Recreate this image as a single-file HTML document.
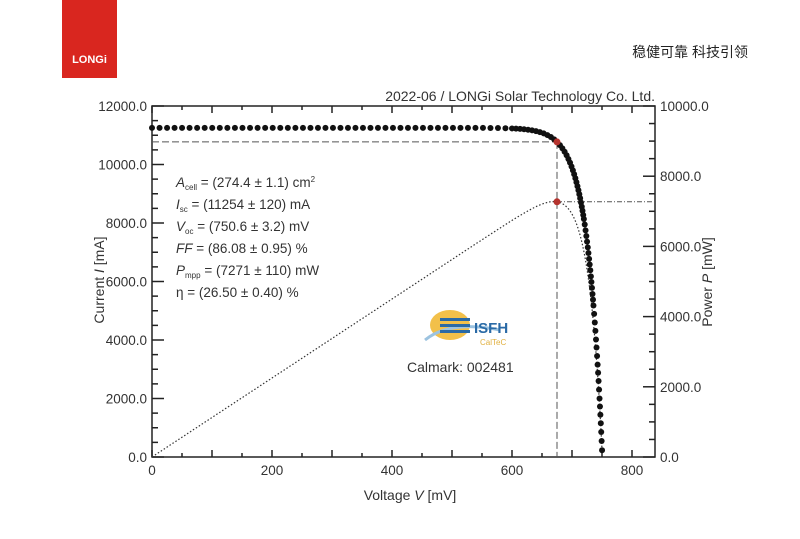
<!DOCTYPE html>
<html><head><meta charset="utf-8"><style>
body{margin:0;background:#fff;width:800px;height:534px;overflow:hidden;font-family:"Liberation Sans","Noto Sans CJK SC",sans-serif}
svg text{font-family:"Liberation Sans","Noto Sans CJK SC",sans-serif;fill:#333}
</style></head><body>
<svg id="s" width="800" height="534" xmlns="http://www.w3.org/2000/svg">
<rect x="62" y="0" width="55" height="78" fill="#d9261f"/>
<text x="89.5" y="63" font-size="11" font-weight="bold" text-anchor="middle" style="fill:#fff">LONGi</text>
<text x="748" y="57" font-size="14" text-anchor="end" style="fill:#222">稳健可靠  科技引领</text>
<text x="655" y="101" font-size="14" text-anchor="end">2022-06 / LONGi Solar Technology Co. Ltd.</text>
<rect x="152" y="106" width="503" height="351" fill="none" stroke="#222" stroke-width="1.5"/>
<g id="ticks" stroke="#222" stroke-width="1.5"></g>
<g id="lab" font-size="13.5"></g>
<text transform="translate(104,280) rotate(-90)" font-size="14" text-anchor="middle">Current <tspan font-style="italic">I</tspan> [mA]</text>
<text transform="translate(712,282) rotate(-90)" font-size="14" text-anchor="middle">Power <tspan font-style="italic">P</tspan> [mW]</text>
<text x="410" y="500" font-size="14" text-anchor="middle">Voltage <tspan font-style="italic">V</tspan> [mV]</text>
<g font-size="13.5">
<text x="176" y="187"><tspan font-style="italic">A</tspan><tspan font-size="8" dy="3">cell</tspan><tspan dy="-3"> = (274.4 ± 1.1) cm</tspan><tspan font-size="8" dy="-5">2</tspan></text>
<text x="176" y="209"><tspan font-style="italic">I</tspan><tspan font-size="8" dy="3">sc</tspan><tspan dy="-3"> = (11254 ± 120) mA</tspan></text>
<text x="176" y="231"><tspan font-style="italic">V</tspan><tspan font-size="8" dy="3">oc</tspan><tspan dy="-3"> = (750.6 ± 3.2) mV</tspan></text>
<text x="176" y="253"><tspan font-style="italic">FF</tspan> = (86.08 ± 0.95) %</text>
<text x="176" y="275"><tspan font-style="italic">P</tspan><tspan font-size="8" dy="3">mpp</tspan><tspan dy="-3"> = (7271 ± 110) mW</tspan></text>
<text x="176" y="297">η = (26.50 ± 0.40) %</text>
</g>
<ellipse cx="450" cy="325" rx="20" ry="15" fill="#f2c04a"/>
<path d="M425 340 Q450 320 500 330" stroke="#9cc3e0" stroke-width="3" fill="none"/>
<rect x="440" y="318" width="30" height="3" fill="#2a6aa6"/><rect x="440" y="324" width="30" height="3" fill="#2a6aa6"/><rect x="440" y="330" width="30" height="3" fill="#2a6aa6"/>
<text x="474" y="333" font-size="15" font-weight="bold" style="fill:#2a6aa6">ISFH</text>
<text x="480" y="345" font-size="8" style="fill:#e0b040">CalTeC</text>
<text x="407" y="372" font-size="14">Calmark: 002481</text>
<g id="curves"></g>
</svg>
<script>
const NS="http://www.w3.org/2000/svg";
const X=v=>152+v*0.6, YI=i=>457-i*351/12000, YP=p=>457-p*351/10000;
function el(t,a,p){const e=document.createElementNS(NS,t);for(const k in a)e.setAttribute(k,a[k]);(p||document.getElementById('curves')).appendChild(e);return e;}
const tk=document.getElementById('ticks'),lb=document.getElementById('lab');
for(let v=0;v<=835;v+=50){const L=v%100==0?7:4;el('line',{x1:X(v),y1:457,x2:X(v),y2:457-L},tk);el('line',{x1:X(v),y1:106,x2:X(v),y2:106+L},tk);
 if(v%200==0)el('text',{x:X(v),y:475,'text-anchor':'middle'},lb).textContent=v;}
for(let i=0;i<=12000;i+=500){const L=i%2000==0?12:6;el('line',{x1:152,y1:YI(i),x2:152+L,y2:YI(i)},tk);
 if(i%2000==0)el('text',{x:147,y:YI(i)+5,'text-anchor':'end'},lb).textContent=i.toFixed(1);}
for(let p=0;p<=10000;p+=500){const L=p%2000==0?12:6;el('line',{x1:655,y1:YP(p),x2:655-L,y2:YP(p)},tk);
 if(p%2000==0)el('text',{x:660,y:YP(p)+5},lb).textContent=p.toFixed(1);}
const Isc=11254,Voc=750.6,a=24;
const I=v=>Isc*(1-Math.exp((v-Voc)/a))/(1-Math.exp(-Voc/a));
let d="";for(let v=0;v<=Voc;v+=2){d+=(v?"L":"M")+X(v).toFixed(1)+" "+YP(v*I(v)/1000).toFixed(1);}
el('path',{d:d,fill:'none',stroke:'#333','stroke-width':1.2,'stroke-dasharray':'1.5 2'});
const Vm=675,Im=I(Vm),Pm=Vm*Im/1000;
el('line',{x1:152,y1:YI(Im),x2:X(Vm),y2:YI(Im),stroke:'#555','stroke-width':1,'stroke-dasharray':'7 3'});
el('line',{x1:X(Vm),y1:YI(Im),x2:X(Vm),y2:457,stroke:'#555','stroke-width':1,'stroke-dasharray':'7 3'});
el('line',{x1:X(Vm),y1:YP(Pm),x2:655,y2:YP(Pm),stroke:'#555','stroke-width':1,'stroke-dasharray':'5 2 1 2'});
let lx=-99,ly=-99;
for(let v=0;v<=Voc;v+=0.1){const c=I(v);const x=X(v),y=YI(c);const th=v<600?7.5:(c>8000?4:(c>5000?5.5:8));
 if(Math.hypot(x-lx,y-ly)>=th){el('circle',{cx:x,cy:y,r:3,fill:'#111'});lx=x;ly=y;}}
el('circle',{cx:X(Vm),cy:YI(Im),r:3.5,fill:'#b5332e'});
el('circle',{cx:X(Vm),cy:YP(Pm),r:3.5,fill:'#b5332e'});
</script>
</body></html>
